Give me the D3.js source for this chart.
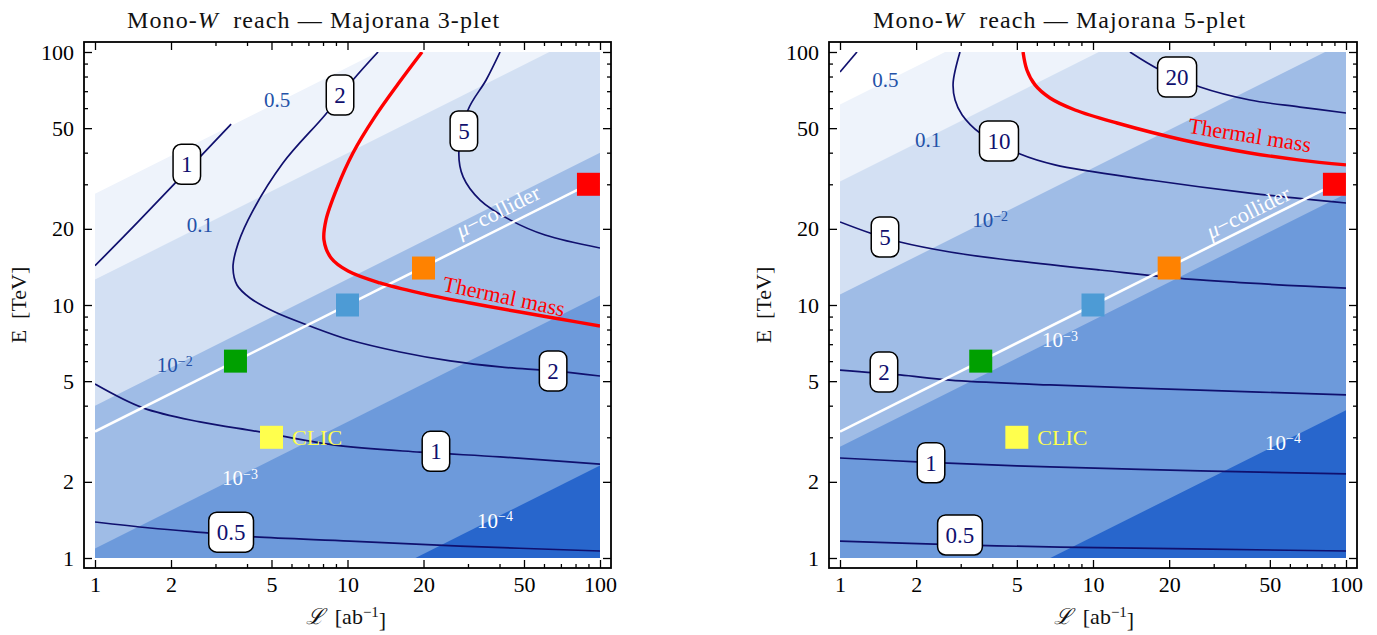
<!DOCTYPE html>
<html><head><meta charset="utf-8">
<script src="https://cdn.jsdelivr.net/npm/d3@7"></script>
<style>
body{margin:0;background:#fff}
svg text{font-family:"Liberation Serif","DejaVu Serif",serif}
</style></head>
<body><svg id="c" width="1377" height="635"></svg>
<script>
// ---------------- data ----------------
const majorTicks = [1,2,5,10,20,50,100];
const minorTicks = [3,4,6,7,8,9,30,40,60,70,80,90];
const panelTitles = ["Majorana 3-plet","Majorana 5-plet"];
const bandColors = ["#eef3fb","#d3e0f3","#9fbce6","#6d9adb","#2866cc"];
const bandLabels = [["0.5",null],["0.1",null],["10","−2"],["10","−3"],["10","−4"]];
const bandLabelColors = ["#2452a8","#2452a8","#2452a8","#ffffff","#ffffff"];
// boundary lines E = E0 * sqrt(L)
const bandE0_3 = [27.5,12.6,4.0,1.09,0.232];
const bandE0_5 = [62,30.8,11,2.75,0.384];
const bandLabelPos3 = [[5.26,65.0],[2.6,20.7],[2.07,5.79],[3.75,2.07],[38.4,1.41]];
const bandLabelPos5 = [[1.51,77.6],[2.23,44.9],[3.92,21.7],[7.41,7.27],[56.4,2.87]];
// muon collider benchmarks
const muL = [3.6,10,20,90];
const muE = [6,10,14,30];
const muColors = ["#00a000","#4d9bd5","#ff8200","#ff0000"];
const muLineL = [1,90];
const muLineE = [3.16,30];
const muTextPos3 = [39.4,23.5];
const muTextPos5 = [41.0,23.3];
const clicL = 5, clicE = 3;
// contours: 3-plet
const c3_1a = [[1,14.3],[1.48,21.3],[3.46,51.9]];
const c3_2 = [[13.21,100],[10.51,77.5],[8.15,56.4],[5.55,36.4],[4.04,21.7],[3.62,16.5],[3.52,14.0],[3.65,12.0],[4.11,10.66],[5.16,9.38],[7.10,8.26],[10.23,7.27],[16.14,6.52],[25.5,6.01],[40.2,5.69],[65.2,5.49],[100,5.24]];
const c3_5 = [[40.2,100],[35.4,77.5],[30.0,59.0],[27.6,39.9],[28.7,32.1],[33.5,26.0],[44.0,21.7],[60.6,18.9],[100,16.8]];
const c3_1b = [[1,4.87],[1.549,3.92],[2.605,3.45],[4.50,3.15],[8.76,2.80],[19.37,2.62],[40.2,2.51],[100,2.35]];
const c3_05 = [[1,1.388],[1.652,1.314],[2.777,1.256],[4.30,1.211],[10.23,1.167],[27.9,1.115],[100,1.066]];
const thermal3 = [[19.73,100],[15.85,74.7],[12.73,54.8],[10.51,39.9],[9.09,29.0],[8.22,21.7],[8.07,18.07],[8.61,15.34],[10.05,13.62],[13.45,12.22],[19.37,11.15],[30.6,10.18],[48.2,9.38],[69.4,8.80],[100,8.26]];
const labels3 = [["1",[2.31,36]],["2",[9.34,67.6]],["5",[28.9,48.7]],["2",[65.2,5.49]],["1",[22.4,2.64]],["0.5",[3.46,1.265]]];
const thermalText3 = [41.7,10.85];
// contours: 5-plet
const c5_05a = [[1,83.4],[1.167,100]];
const c5_10 = [[2.98,100],[2.80,75.4],[2.85,64.6],[3.04,56.4],[3.58,47.8],[5.15,39.5],[7.07,35.8],[16.8,31.2],[41.7,27.7],[100,25.3]];
const c5_20 = [[14.0,100],[18.4,84.9],[26.5,72.7],[41.7,64.6],[65.8,60.6],[100,57.4]];
const c5_5 = [[1,21.3],[1.314,19.26],[1.726,17.74],[2.72,16.2],[4.29,15.2],[10.66,13.75],[26.5,12.56],[100,11.67]];
const c5_2 = [[1,5.53],[1.726,5.29],[2.72,5.05],[6.76,4.83],[26.5,4.61],[100,4.41]];
const c5_1 = [[1,2.485],[2.015,2.40],[6.76,2.29],[26.5,2.21],[100,2.15]];
const c5_05 = [[1,1.167],[2.98,1.126],[7.41,1.105],[100,1.066]];
const thermal5 = [[5.29,100],[5.48,84.9],[5.90,74.1],[6.76,65.8],[8.49,59.0],[12.44,52.4],[22.7,44.9],[41.7,39.9],[65.8,37.4],[100,35.8]];
const labels5 = [["20",[21.5,79.6]],["10",[4.25,44.5]],["5",[1.506,18.57]],["2",[1.492,5.43]],["1",[2.29,2.38]],["0.5",[2.98,1.233]]];
const thermalText5 = [41.7,47.0];

// ---------------- layout ----------------
const panels = [
  {id:"a", xr:[95,600], yr:[558,52], pad:[11,10], titleX:127, ylabX:18, xlabX:346, title:panelTitles[0],
   bandE0:bandE0_3, bandPos:bandLabelPos3, contours:[c3_1a,c3_2,c3_5,c3_1b,c3_05], thermal:thermal3,
   labels:labels3, thermalText:thermalText3, thermalAngle:12, muText:muTextPos3},
  {id:"b", xr:[840,1346], yr:[558,52], pad:[11,10], titleX:873, ylabX:763, xlabX:1094, title:panelTitles[1],
   bandE0:bandE0_5, bandPos:bandLabelPos5, contours:[c5_05a,c5_10,c5_20,c5_5,c5_2,c5_1,c5_05], thermal:thermal5,
   labels:labels5, thermalText:thermalText5, thermalAngle:9, muText:muTextPos5}
];

const svg = d3.select("#c");
const navy = "#10106e";

function drawPanel(P){
  const g = svg.append("g");
  const x = d3.scaleLog().domain([1,100]).range(P.xr);
  const y = d3.scaleLog().domain([1,100]).range(P.yr);
  const fL = P.xr[0]-P.pad[0], fR = P.xr[1]+P.pad[0], fT = P.yr[1]-P.pad[1], fB = P.yr[0]+P.pad[1];
  const line = d3.line().x(d=>x(d[0])).y(d=>y(d[1]));
  const cline = d3.line().x(d=>x(d[0])).y(d=>y(d[1])).curve(d3.curveCatmullRom.alpha(0.5));

  g.append("clipPath").attr("id","clip"+P.id).append("rect")
    .attr("x",x(1)).attr("y",y(100)).attr("width",x(100)-x(1)).attr("height",y(1)-y(100));
  const plot = g.append("g").attr("clip-path",`url(#clip${P.id})`);
  plot.append("rect").attr("x",x(1)).attr("y",y(100)).attr("width",x(100)-x(1)).attr("height",y(1)-y(100)).attr("fill","#fff");
  P.bandE0.forEach((e0,i)=>{
    const pts = [[1,e0],[100,e0*10],[100,0.01],[1,0.01]];
    plot.append("path").attr("d",line(pts)+"Z").attr("fill",bandColors[i]);
  });
  // band labels
  P.bandPos.forEach((p,i)=>{
    const t = g.append("text").attr("x",x(p[0])).attr("y",y(p[1])).attr("dy","0.35em")
      .attr("text-anchor","middle").attr("font-size",21).attr("fill",bandLabelColors[i]);
    t.append("tspan").text(bandLabels[i][0]);
    if(bandLabels[i][1]) t.append("tspan").attr("dy","-0.45em").attr("font-size",14).text(bandLabels[i][1]);
  });
  // contours
  P.contours.forEach(c=>{
    plot.append("path").attr("d",cline(c)).attr("fill","none").attr("stroke",navy).attr("stroke-width",1.7);
  });
  // muon collider line
  plot.append("path").attr("d",line(muLineL.map((l,i)=>[l,muLineE[i]]))).attr("stroke","#fff").attr("stroke-width",2.6).attr("fill","none");
  // thermal mass
  plot.append("path").attr("d",cline(P.thermal)).attr("fill","none").attr("stroke","#ff0000").attr("stroke-width",3.4);
  g.append("text").attr("x",x(P.thermalText[0])).attr("y",y(P.thermalText[1])).attr("dy","0.35em")
    .attr("text-anchor","middle").attr("font-size",22).attr("fill","#ff0000")
    .attr("transform",`rotate(${P.thermalAngle},${x(P.thermalText[0])},${y(P.thermalText[1])})`).text("Thermal mass");
  // mu-collider text
  const ang = Math.atan2(y(muLineE[1])-y(muLineE[0]), x(muLineL[1])-x(muLineL[0]))*180/Math.PI;
  const mt = g.append("text").attr("x",x(P.muText[0])).attr("y",y(P.muText[1])).attr("dy","0.35em")
    .attr("text-anchor","middle").attr("font-size",22).attr("fill","#fff")
    .attr("transform",`rotate(${ang},${x(P.muText[0])},${y(P.muText[1])})`);
  mt.append("tspan").attr("font-style","italic").text("μ");
  mt.append("tspan").text("−collider");
  // contour label boxes
  P.labels.forEach(([v,p])=>{
    const lg = g.append("g").attr("transform",`translate(${x(p[0])},${y(p[1])})`);
    const r = lg.append("rect");
    const t = lg.append("text").attr("text-anchor","middle").attr("dy","0.35em").attr("font-size",23).attr("fill",navy).text(v);
    const w = t.node().getComputedTextLength()+16, h = 40;
    r.attr("x",-w/2).attr("y",-h/2).attr("width",w).attr("height",h).attr("rx",8)
      .attr("fill","#fff").attr("stroke","#000").attr("stroke-width",1.5);
  });
  // squares
  const s = 23;
  muL.forEach((l,i)=>{
    g.append("rect").attr("x",x(l)-s/2).attr("y",y(muE[i])-s/2).attr("width",s).attr("height",s).attr("fill",muColors[i]);
  });
  g.append("rect").attr("x",x(clicL)-s/2).attr("y",y(clicE)-s/2).attr("width",s).attr("height",s).attr("fill","#ffff4d");
  g.append("text").attr("x",x(clicL)+s/2+9).attr("y",y(clicE)).attr("dy","0.35em").attr("font-size",22).attr("fill","#ffff4d").text("CLIC");

  // axes
  const styleAx = sel=>{ sel.select(".domain").remove(); sel.selectAll("line").attr("stroke","#000").attr("stroke-width",1.3);
    sel.selectAll("text").attr("font-size",22).attr("fill","#000").attr("font-family",'"Liberation Serif",serif'); };
  const fmt = d=>String(d);
  g.append("g").attr("transform",`translate(0,${fB})`).call(d3.axisBottom(x).tickValues(majorTicks).tickFormat(fmt).tickSizeInner(-8).tickSizeOuter(0).tickPadding(8)).call(styleAx);
  g.append("g").attr("transform",`translate(0,${fB})`).call(d3.axisBottom(x).tickValues(minorTicks).tickFormat("").tickSizeInner(-4).tickSizeOuter(0)).call(styleAx);
  g.append("g").attr("transform",`translate(0,${fT})`).call(d3.axisTop(x).tickValues(majorTicks).tickFormat("").tickSizeInner(-8).tickSizeOuter(0)).call(styleAx);
  g.append("g").attr("transform",`translate(0,${fT})`).call(d3.axisTop(x).tickValues(minorTicks).tickFormat("").tickSizeInner(-4).tickSizeOuter(0)).call(styleAx);
  g.append("g").attr("transform",`translate(${fL},0)`).call(d3.axisLeft(y).tickValues(majorTicks).tickFormat(fmt).tickSizeInner(-8).tickSizeOuter(0).tickPadding(10)).call(styleAx);
  g.append("g").attr("transform",`translate(${fL},0)`).call(d3.axisLeft(y).tickValues(minorTicks).tickFormat("").tickSizeInner(-4).tickSizeOuter(0)).call(styleAx);
  g.append("g").attr("transform",`translate(${fR},0)`).call(d3.axisRight(y).tickValues(majorTicks).tickFormat("").tickSizeInner(-8).tickSizeOuter(0)).call(styleAx);
  g.append("g").attr("transform",`translate(${fR},0)`).call(d3.axisRight(y).tickValues(minorTicks).tickFormat("").tickSizeInner(-4).tickSizeOuter(0)).call(styleAx);
  g.append("rect").attr("x",fL).attr("y",fT).attr("width",fR-fL).attr("height",fB-fT).attr("fill","none").attr("stroke","#000").attr("stroke-width",1.8);

  // title
  const tt = g.append("text").attr("x",P.titleX).attr("y",28).attr("font-size",24).attr("letter-spacing",1.1).attr("fill","#111");
  tt.append("tspan").text("Mono-");
  tt.append("tspan").attr("font-style","italic").text("W");
  tt.append("tspan").text("\u00a0\u00a0reach\u00a0\u2014\u00a0"+P.title);
  // axis labels
  g.append("text").attr("transform",`translate(${P.ylabX},${(fT+fB)/2}) rotate(-90)`).attr("dy","0.35em")
    .attr("text-anchor","middle").attr("font-size",22).attr("fill","#111").text("E\u00a0\u00a0[TeV]");
  const xl = g.append("text").attr("x",P.xlabX).attr("y",624).attr("text-anchor","middle").attr("font-size",22).attr("fill","#111");
  xl.append("tspan").attr("font-style","italic").attr("font-family","DejaVu Serif").text("ℒ");
  xl.append("tspan").text("\u00a0\u00a0[ab");
  xl.append("tspan").attr("dy","-0.45em").attr("font-size",15).text("−1");
  xl.append("tspan").attr("dy","0.45em").text("]");
}
panels.forEach(drawPanel);
</script></body></html>
